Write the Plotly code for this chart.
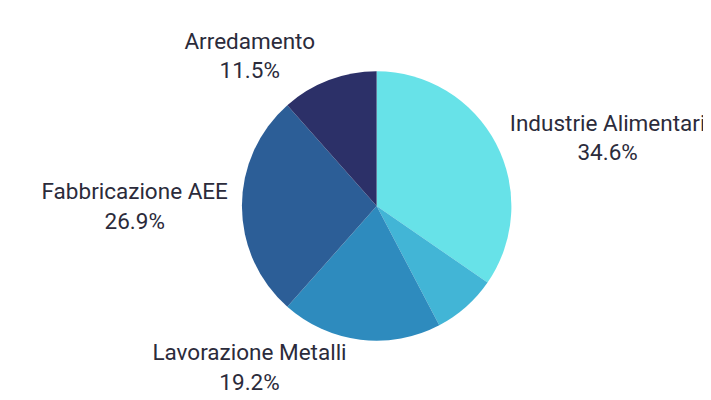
import plotly.graph_objects as go

categories = ["Industrie Alimentari", "Altro", "Lavorazione Metalli", "Fabbricazione AEE", "Arredamento"]
values = [9, 2, 5, 7, 3]
show_label = [True, False, True, True, True]
colors = ["#67E2E8", "#42B5D6", "#2E8BBE", "#2C5E97", "#2C3068"]

texts = [f"{c}<br>{v / sum(values) * 100:.1f}%" if s else "" for c, v, s in zip(categories, values, show_label)]

fig = go.Figure(go.Pie(
    labels=categories,
    values=values,
    text=texts,
    textinfo="text",
    textposition="outside",
    sort=False,
    direction="clockwise",
    rotation=0,
    marker=dict(colors=colors, line=dict(width=0)),
    textfont=dict(family="Roboto", size=22.5, color="#2B2B3B"),
    outsidetextfont=dict(family="Roboto", size=22.5, color="#2B2B3B"),
    domain=dict(x=[0.329, 0.708], y=[0.1675, 0.8425]),
    showlegend=False,
    hoverinfo="label+percent",
))

fig.update_layout(
    width=711, height=400,
    margin=dict(l=0, r=0, t=0, b=0),
    paper_bgcolor="white",
    plot_bgcolor="white",
    showlegend=False,
)

fig.write_html("out.html")
